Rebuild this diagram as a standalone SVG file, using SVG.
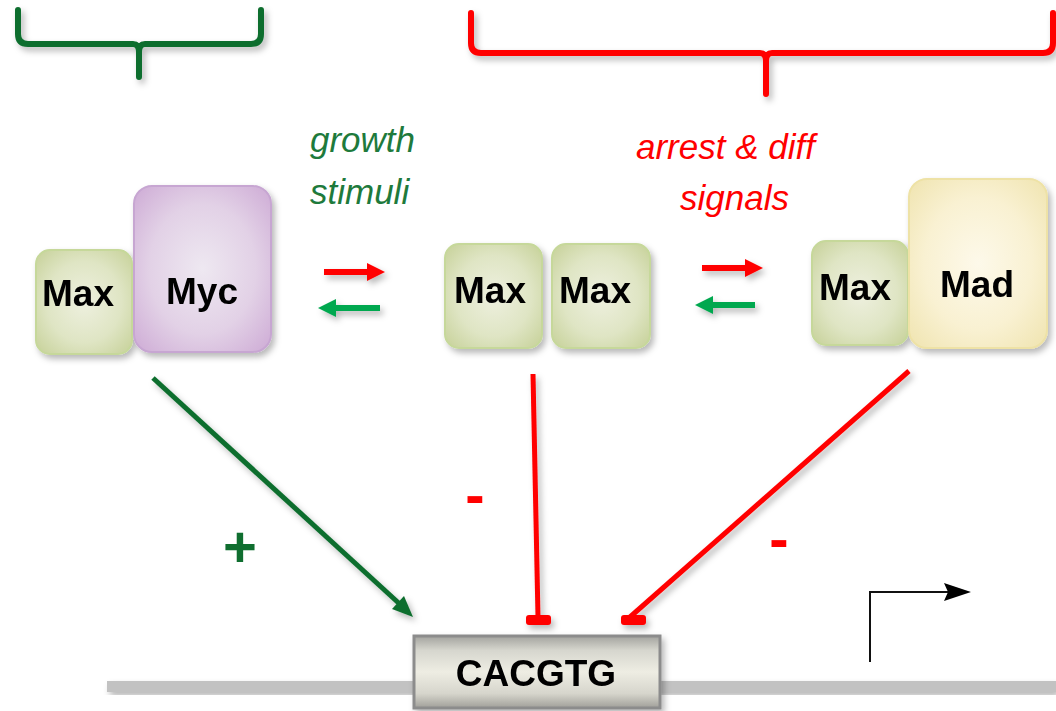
<svg xmlns="http://www.w3.org/2000/svg" width="1056" height="711" viewBox="0 0 1056 711">
  <defs>
    <style>
      .lbl { font-family: "Liberation Sans", Arial, sans-serif; font-weight: bold; font-size: 37px; fill: #000; text-anchor: middle; }
      .note { font-family: "Liberation Sans", Arial, sans-serif; font-style: italic; font-size: 35px; }
      .sign { font-family: "Liberation Sans", Arial, sans-serif; font-weight: bold; text-anchor: middle; }
      .brace { fill: none; stroke-width: 6; stroke-linecap: round; stroke-linejoin: round; }
      .link { fill: none; stroke-width: 5; stroke-linecap: butt; }
    </style>
    <filter id="shadow" x="-20%" y="-20%" width="140%" height="140%">
      <feDropShadow dx="3" dy="4" stdDeviation="3" flood-color="#000" flood-opacity="0.28"/>
    </filter>
    <radialGradient id="gMax" cx="50%" cy="50%" r="65%">
      <stop offset="0" stop-color="#eef0df"/>
      <stop offset="0.6" stop-color="#dfe5c4"/>
      <stop offset="1" stop-color="#cad49f"/>
    </radialGradient>
    <radialGradient id="gMyc" cx="50%" cy="50%" r="65%">
      <stop offset="0" stop-color="#eee8f1"/>
      <stop offset="0.6" stop-color="#e2d1e6"/>
      <stop offset="1" stop-color="#d1b1d8"/>
    </radialGradient>
    <radialGradient id="gMad" cx="50%" cy="50%" r="65%">
      <stop offset="0" stop-color="#fdf9ea"/>
      <stop offset="0.6" stop-color="#f9f1d2"/>
      <stop offset="1" stop-color="#f1e6b5"/>
    </radialGradient>
    <linearGradient id="gBox" x1="0" y1="0" x2="0" y2="1">
      <stop offset="0" stop-color="#a3a39e"/>
      <stop offset="0.2" stop-color="#d6d6ce"/>
      <stop offset="0.5" stop-color="#eeede3"/>
      <stop offset="0.8" stop-color="#d6d5cc"/>
      <stop offset="1" stop-color="#a09f99"/>
    </linearGradient>
  </defs>

  <!-- braces -->
  <g id="brace-growth" filter="url(#shadow)">
    <path class="brace" stroke="#0f6e2f" d="M18,10 V34 Q18,44 28,44 H133 Q139,44 139,52 V77 M139,52 Q139,44 145,44 H251 Q261,44 261,34 V10"/>
  </g>
  <g id="brace-arrest" filter="url(#shadow)">
    <path class="brace" stroke="#ff0000" d="M471,13 V43 Q471,53 481,53 H760 Q766,53 766,61 V94 M766,61 Q766,53 772,53 H1043 Q1053,53 1053,43 V13"/>
  </g>

  <!-- signal labels -->
  <g id="label-growth" class="note" fill="#1e7a3c">
    <text x="310" y="152">growth</text>
    <text x="310" y="204">stimuli</text>
  </g>
  <g id="label-arrest" class="note" fill="#ff0000">
    <text x="636" y="159">arrest &amp; diff</text>
    <text x="680" y="210">signals</text>
  </g>

  <!-- Max/Myc heterodimer -->
  <g id="max-myc" filter="url(#shadow)">
    <rect x="36" y="250" width="96" height="104" rx="14" fill="url(#gMax)" stroke="#c6d89a" stroke-width="2"/>
    <rect x="134" y="186" width="137" height="166" rx="18" fill="url(#gMyc)" stroke="#c7a6d2" stroke-width="2"/>
    <text class="lbl" x="78" y="306">Max</text>
    <text class="lbl" x="202" y="304">Myc</text>
  </g>

  <!-- Max/Max homodimer -->
  <g id="max-max" filter="url(#shadow)">
    <rect x="445" y="244" width="97" height="104" rx="14" fill="url(#gMax)" stroke="#c6d89a" stroke-width="2"/>
    <rect x="552" y="244" width="98" height="104" rx="14" fill="url(#gMax)" stroke="#c6d89a" stroke-width="2"/>
    <text class="lbl" x="490" y="303">Max</text>
    <text class="lbl" x="595" y="303">Max</text>
  </g>

  <!-- Max/Mad heterodimer -->
  <g id="max-mad" filter="url(#shadow)">
    <rect x="812" y="241" width="96" height="104" rx="14" fill="url(#gMax)" stroke="#c6d89a" stroke-width="2"/>
    <rect x="909" y="179" width="138" height="169" rx="18" fill="url(#gMad)" stroke="#eee2a6" stroke-width="2"/>
    <text class="lbl" x="855" y="300">Max</text>
    <text class="lbl" x="977" y="297">Mad</text>
  </g>

  <!-- equilibrium arrows -->
  <g id="equilibria" filter="url(#shadow)">
    <rect x="324" y="269" width="45" height="6" fill="#ff0000"/>
    <polygon points="367,263 385,272 367,281" fill="#ff0000"/>
    <rect x="334" y="305" width="46" height="6" fill="#00a84f"/>
    <polygon points="336,299 318,308 336,317" fill="#00a84f"/>
    <rect x="702" y="265" width="45" height="6" fill="#ff0000"/>
    <polygon points="745,259 763,268 745,277" fill="#ff0000"/>
    <rect x="711" y="302" width="44" height="6" fill="#00a84f"/>
    <polygon points="713,296 695,305 713,314" fill="#00a84f"/>
  </g>

  <!-- DNA strand -->
  <g id="dna" filter="url(#shadow)">
    <rect x="107" y="681" width="949" height="11" fill="#c2c2c2"/>
  </g>

  <!-- regulatory connectors -->
  <g id="connectors" filter="url(#shadow)">
    <line class="link" stroke="#0f6e2f" x1="153" y1="378" x2="403" y2="607"/>
    <polygon points="413,617 392,609 404,596" fill="#0f6e2f"/>
    <line class="link" stroke="#ff0000" x1="533" y1="374" x2="538" y2="617"/>
    <rect x="526" y="615" width="25" height="10" rx="3" fill="#ff0000"/>
    <line class="link" stroke="#ff0000" x1="909" y1="371" x2="630" y2="617"/>
    <rect x="621" y="615" width="25" height="10" rx="3" fill="#ff0000"/>
  </g>

  <!-- effect signs -->
  <g id="signs">
    <text class="sign" x="240" y="567" font-size="58" fill="#0f6e2f">+</text>
    <text class="sign" x="475" y="515" font-size="58" fill="#ff0000">-</text>
    <text class="sign" x="779" y="559" font-size="58" fill="#ff0000">-</text>
  </g>

  <!-- E-box element -->
  <g id="ebox" filter="url(#shadow)">
    <rect x="414" y="636" width="246" height="72" fill="url(#gBox)" stroke="#8c8c8c" stroke-width="3"/>
    <text class="lbl" x="536" y="686" font-size="34">CACGTG</text>
  </g>

  <!-- transcription start site -->
  <g id="tss">
    <line x1="870" y1="591" x2="870" y2="662" stroke="#111" stroke-width="2"/>
    <line x1="869" y1="592" x2="950" y2="592" stroke="#111" stroke-width="2.2"/>
    <polygon points="944,583 971,592 944,601 948,592" fill="#000"/>
  </g>
</svg>
